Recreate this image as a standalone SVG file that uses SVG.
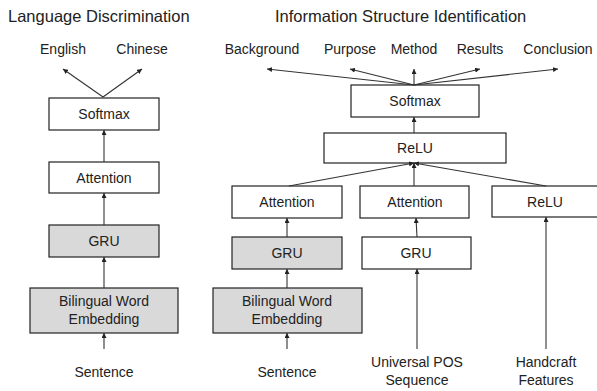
<svg xmlns="http://www.w3.org/2000/svg" width="597" height="391" viewBox="0 0 597 391">
<defs>
<style>
text{font-family:"Liberation Sans",Arial,sans-serif;fill:#222;text-anchor:middle}
.title{font-size:16.5px;text-anchor:start}
.lbl{font-size:14px}
.box{fill:#fff;stroke:#222;stroke-width:1.2}
.grey{fill:#d9d9d9}
.conn line{stroke:#333;stroke-width:1.1;marker-end:url(#ah)}
</style>
<marker id="ah" viewBox="0 0 10 10" refX="10" refY="5" markerWidth="5" markerHeight="5" orient="auto" markerUnits="userSpaceOnUse">
<path d="M0,0L10,5L0,10z" fill="#222"/>
</marker>
</defs>
<rect width="597" height="391" fill="#fff"/>
<text class="title" x="8" y="22">Language Discrimination</text>
<text class="title" x="275" y="22">Information Structure Identification</text>
<g id="out-left">
<text class="lbl" x="63" y="54">English</text>
<text class="lbl" x="142" y="54">Chinese</text>
</g>
<g id="out-right">
<text class="lbl" x="262" y="54">Background</text>
<text class="lbl" x="350" y="54">Purpose</text>
<text class="lbl" x="414" y="54">Method</text>
<text class="lbl" x="480" y="54">Results</text>
<text class="lbl" x="558" y="54">Conclusion</text>
</g>
<g id="softmax-l"><rect class="box" x="49" y="98" width="110" height="32"/><text class="lbl" x="104" y="119">Softmax</text></g>
<g id="attention-l"><rect class="box" x="49" y="162" width="110" height="31"/><text class="lbl" x="104" y="183">Attention</text></g>
<g id="gru-l"><rect class="box grey" x="49" y="225" width="110" height="32"/><text class="lbl" x="104" y="246">GRU</text></g>
<g id="bwe-l"><rect class="box grey" x="30" y="288" width="148" height="45"/><text class="lbl" x="104" y="306">Bilingual Word</text><text class="lbl" x="104" y="324">Embedding</text></g>
<g id="sentence-l"><text class="lbl" x="104" y="377">Sentence</text></g>
<g id="softmax-r"><rect class="box" x="351" y="85" width="128" height="32"/><text class="lbl" x="415" y="106">Softmax</text></g>
<g id="relu-top"><rect class="box" x="324" y="133" width="182" height="30"/><text class="lbl" x="415" y="153">ReLU</text></g>
<g id="attention-r1"><rect class="box" x="232" y="186" width="110" height="32"/><text class="lbl" x="287" y="207">Attention</text></g>
<g id="attention-r2"><rect class="box" x="360" y="186" width="109" height="32"/><text class="lbl" x="415" y="207">Attention</text></g>
<g id="relu-r3"><rect class="box" x="492" y="186" width="108" height="31"/><text class="lbl" x="545" y="207">ReLU</text></g>
<g id="gru-r1"><rect class="box grey" x="232" y="237" width="110" height="32"/><text class="lbl" x="287" y="258">GRU</text></g>
<g id="gru-r2"><rect class="box" x="362" y="237" width="109" height="32"/><text class="lbl" x="416" y="258">GRU</text></g>
<g id="bwe-r"><rect class="box grey" x="213" y="288" width="149" height="45"/><text class="lbl" x="287" y="306">Bilingual Word</text><text class="lbl" x="287" y="324">Embedding</text></g>
<g id="sentence-r"><text class="lbl" x="287" y="377">Sentence</text></g>
<g id="pos"><text class="lbl" x="417" y="367">Universal POS</text><text class="lbl" x="417" y="385">Sequence</text></g>
<g id="handcraft"><text class="lbl" x="546" y="367">Handcraft</text><text class="lbl" x="546" y="385">Features</text></g>
<g id="connectors" class="conn">
<line x1="103" y1="97" x2="63" y2="69"/>
<line x1="103" y1="97" x2="142" y2="69"/>
<line x1="104" y1="162" x2="104" y2="130"/>
<line x1="104" y1="225" x2="104" y2="193"/>
<line x1="104" y1="288" x2="104" y2="257"/>
<line x1="104" y1="349" x2="104" y2="333"/>
<line x1="414" y1="85" x2="267" y2="69"/>
<line x1="414" y1="85" x2="350" y2="69"/>
<line x1="414" y1="85" x2="414" y2="69"/>
<line x1="414" y1="85" x2="480" y2="69"/>
<line x1="414" y1="85" x2="558" y2="69"/>
<line x1="414" y1="133" x2="414" y2="117"/>
<line x1="289" y1="186" x2="414" y2="163"/>
<line x1="414" y1="186" x2="414" y2="163"/>
<line x1="546" y1="186" x2="414" y2="163"/>
<line x1="287" y1="237" x2="287" y2="218"/>
<line x1="417" y1="237" x2="416" y2="218"/>
<line x1="287" y1="288" x2="287" y2="269"/>
<line x1="287" y1="349" x2="287" y2="333"/>
<line x1="417" y1="349" x2="417" y2="269"/>
<line x1="546" y1="349" x2="546" y2="217"/>
</g>
</svg>
